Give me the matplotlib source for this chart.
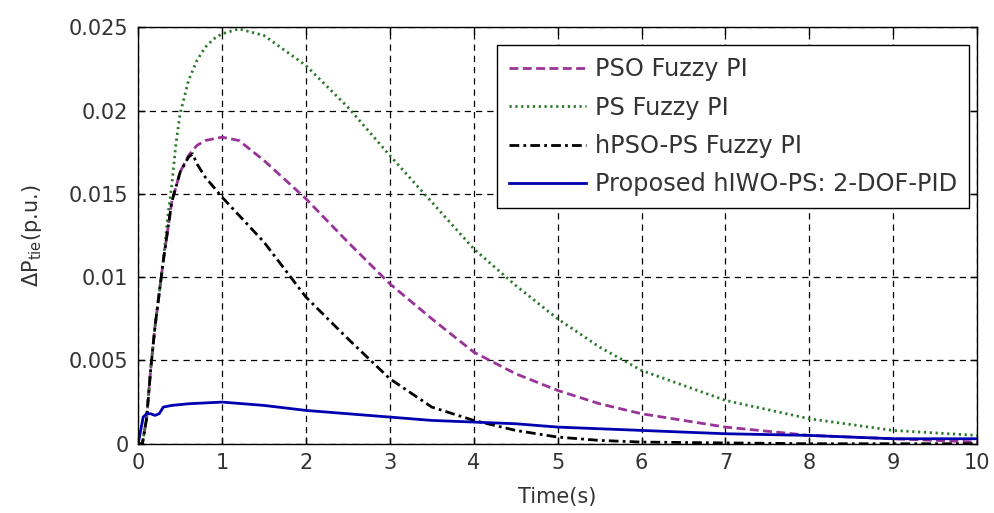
import matplotlib
matplotlib.use("Agg")
import matplotlib.pyplot as plt
import numpy as np

# values
t_pso = [0, 0.05, 0.1, 0.15, 0.2, 0.3, 0.4, 0.5, 0.6, 0.7, 0.8, 1.0, 1.2, 1.5,
         2, 2.5, 3, 3.5, 4, 4.5, 5, 5.5, 6, 7, 8, 9, 10]
pso_fuzzy = [0, 0, 0.0015, 0.0045, 0.007, 0.011, 0.0145, 0.0163, 0.0173, 0.0179,
             0.0182, 0.0184, 0.0182, 0.0170, 0.0147, 0.0121, 0.0096, 0.0075,
             0.0055, 0.0042, 0.0032, 0.0024, 0.0018, 0.0010, 0.0005, 0.0003, 0.0001]

t_ps = [0, 0.05, 0.1, 0.15, 0.2, 0.25, 0.3, 0.35, 0.4, 0.45, 0.5, 0.6, 0.7, 0.8,
        0.9, 1.0, 1.2, 1.5, 2, 2.5, 3, 3.5, 4, 4.5, 5, 5.5, 6, 7, 8, 9, 10]
ps_fuzzy = [0, 0, 0.0015, 0.0045, 0.007, 0.009, 0.011, 0.0135, 0.0155, 0.018,
            0.0198, 0.0218, 0.0230, 0.0238, 0.0243, 0.0246, 0.0249, 0.0245,
            0.0227, 0.0202, 0.0173, 0.0145, 0.0117, 0.0095, 0.0075, 0.0058,
            0.0044, 0.0026, 0.0015, 0.0008, 0.0005]

t_hyb = [0, 0.05, 0.1, 0.15, 0.2, 0.3, 0.4, 0.5, 0.6, 0.65, 0.7, 0.8, 1.0, 1.5,
         2, 2.5, 3, 3.5, 4, 4.5, 5, 5.5, 6, 7, 8, 9, 10]
hpso_ps = [0, 0, 0.0015, 0.0045, 0.007, 0.011, 0.0145, 0.0163, 0.0172, 0.0174,
           0.0168, 0.0160, 0.0148, 0.0121, 0.0088, 0.0063, 0.0039, 0.0022,
           0.0014, 0.0008, 0.0004, 0.0002, 0.0001, 0.00005, 0, 0, 0]

t_prop = [0, 0.03, 0.06, 0.1, 0.15, 0.2, 0.25, 0.3, 0.4, 0.6, 1.0, 1.5, 2, 2.5,
          3, 3.5, 4, 4.5, 5, 5.5, 6, 7, 8, 9, 10]
proposed = [0, 0.0008, 0.0016, 0.0018, 0.0018, 0.0017, 0.0018, 0.0022, 0.0023,
            0.0024, 0.0025, 0.0023, 0.0020, 0.0018, 0.0016, 0.0014, 0.0013,
            0.0012, 0.0010, 0.0009, 0.0008, 0.0006, 0.0005, 0.0003, 0.0003]

labels = ["PSO Fuzzy PI", "PS Fuzzy PI", "hPSO-PS Fuzzy PI",
          "Proposed hIWO-PS: 2-DOF-PID"]

plt.rcParams['font.family'] = ['DejaVu Sans']
plt.rcParams['mathtext.default'] = 'regular'
fs = 15
fs_leg = 17.3
txt = '#333333'

fig = plt.figure(figsize=(9.94, 5.13), dpi=100)
ax = fig.add_axes([0.139, 0.135, 0.844, 0.812])

ax.plot(t_pso, pso_fuzzy, color='#993399', lw=2.0, linestyle=(0, (3.2, 1.6)), label=labels[0])
ax.plot(t_ps, ps_fuzzy, color='#2a7a2a', lw=2.0, linestyle=(0, (0.8, 1.3)), label=labels[1])
ax.plot(t_hyb, hpso_ps, color='black', lw=2.0, linestyle=(0, (3.5, 1.5, 1, 1.5)), label=labels[2])
ax.plot(t_prop, proposed, color='#0000b0', lw=2.0, label=labels[3])

ax.set_xlim(0, 10)
ax.set_ylim(0, 0.025)
ax.set_xticks(np.arange(0, 11, 1))
ax.set_yticks([0, 0.005, 0.01, 0.015, 0.02, 0.025])
ax.set_yticklabels(['0', '0.005', '0.01', '0.015', '0.02', '0.025'])

ax.grid(True, color='black', lw=0.9, linestyle=(0, (5, 4)))
ax.tick_params(direction='in', length=5, width=1, top=True, right=True,
               labelsize=fs, color='black', labelcolor=txt, pad=7)
for s in ax.spines.values():
    s.set_linewidth(1.0)
    s.set_color('black')

ax.set_xlabel('Time(s)', fontsize=fs, color=txt, labelpad=10)
ax.set_ylabel(r'$\Delta$P$_{tie}$(p.u.)', fontsize=fs, color=txt, labelpad=18)

leg = ax.legend(loc='upper right', bbox_to_anchor=(0.990, 0.957), borderaxespad=0,
                fontsize=fs_leg, handlelength=3.2, handletextpad=0.37, labelspacing=0.6,
                borderpad=0.5, fancybox=False, framealpha=1, edgecolor='black')
leg.get_frame().set_linewidth(1.0)
for tx in leg.get_texts():
    tx.set_color(txt)

fig.savefig('out.png', dpi=100)
